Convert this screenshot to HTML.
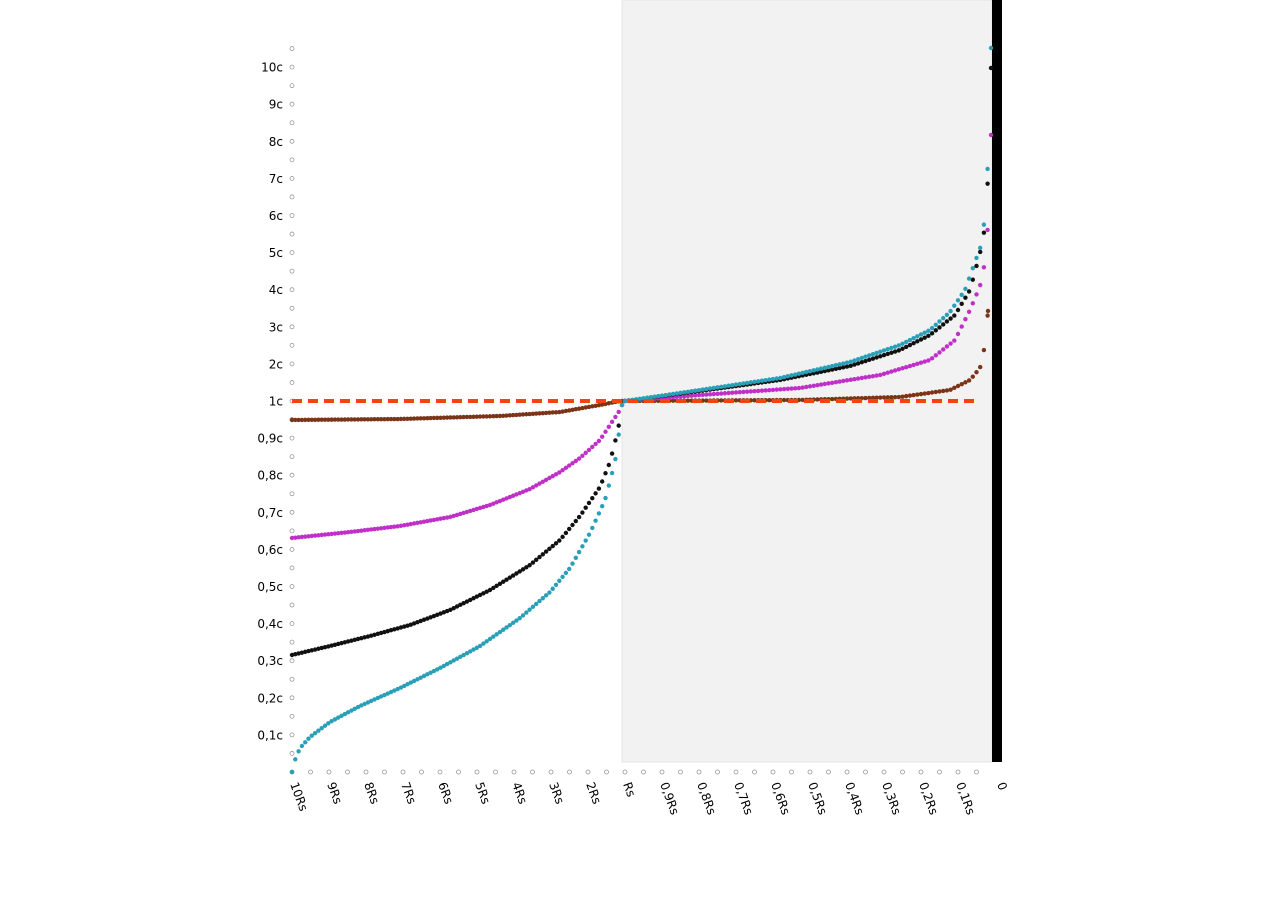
<!DOCTYPE html>
<html><head><meta charset="utf-8"><style>
body{margin:0;background:#fff;}
svg{display:block;font-family:"DejaVu Sans","Liberation Sans",sans-serif;}
</style></head><body>
<svg id="s" width="1280" height="905" xmlns="http://www.w3.org/2000/svg">
<rect x="622" y="0" width="370" height="762" fill="#f2f2f2" stroke="#e4e4e4"/>
<rect x="992" y="0" width="10" height="762" fill="#000"/>
<g id="ticks"></g>
<g id="dots"></g>
<line x1="292" y1="401" x2="975" y2="401" stroke="#f04510" stroke-width="4" stroke-dasharray="10,6"/>
</svg>
<script>
var NS="http://www.w3.org/2000/svg",s=document.getElementById('s'),T=document.getElementById('ticks'),D=document.getElementById('dots');
function el(n,a,p,t){var e=document.createElementNS(NS,n);for(var k in a)e.setAttribute(k,a[k]);if(t)e.textContent=t;(p||s).appendChild(e);return e;}
for(var i=0;i<=39;i++){var y=772-i*18.55;el('circle',{cx:292,cy:y,r:2,fill:'#fff',stroke:'#999','stroke-width':0.8},T);}
for(var i=1;i<=37;i++){var x=292+i*18.5;el('circle',{cx:x,cy:772,r:2,fill:'#fff',stroke:'#999','stroke-width':0.8},T);}
var yl=['0,1c','0,2c','0,3c','0,4c','0,5c','0,6c','0,7c','0,8c','0,9c','1c','2c','3c','4c','5c','6c','7c','8c','9c','10c'];
yl.forEach(function(t,i){el('text',{x:283,y:772-(i+1)*37.1+4.5,'text-anchor':'end','font-size':12,fill:'#000'},T,t);});
var xl=['10Rs','9Rs','8Rs','7Rs','6Rs','5Rs','4Rs','3Rs','2Rs','Rs','0,9Rs','0,8Rs','0,7Rs','0,6Rs','0,5Rs','0,4Rs','0,3Rs','0,2Rs','0,1Rs','0'];
xl.forEach(function(t,i){var x=290+i*37,y=784;if(i==19)x=997;el('text',{x:x,y:y,'font-size':12,fill:'#000',transform:'rotate(70 '+x+' '+y+')'},T,t);});
function interp(p,x){if(x<=p[0][0])return p[0][1];for(var i=1;i<p.length;i++){if(x<=p[i][0]){var a=p[i-1],b=p[i];return a[1]+(b[1]-a[1])*(x-a[0])/(b[0]-a[0]);}}return p[p.length-1][1];}
var S=[
{c:'#7a3418',L:[[292,420],[400,419],[500,416],[560,412],[600,405],[615,402],[622,401]],R:[[625,401],[800,400],[900,397],[950,390],[970,380],[980,368],[985,345],[988,311]]},
{c:'#c030c8',L:[[292,538],[350,532],[400,526],[450,517],[490,505],[530,489],[560,472],[580,458],[600,440],[612,422],[620,410]],R:[[625,401],[700,395],[800,388],[880,375],[930,360],[955,340],[970,310],[980,286],[985,262],[988,225],[991,135]]},
{c:'#111',L:[[292,655],[330,646],[370,636],[410,625],[450,610],[490,590],[530,565],[560,540],[580,516],[600,487],[610,462],[618,430],[622,405]],R:[[625,401],[700,391],[780,380],[850,366],[900,350],[930,335],[955,315],[970,290],[980,253],[985,227],[988,177],[991,68]]},
{c:'#2aa0b8',L:[[292,772],[295,760],[300,748],[310,737],[330,722],[360,706],[400,688],[440,668],[480,646],[520,618],[550,592],[570,568],[590,533],[605,500],[615,462],[620,425],[622,405]],R:[[625,401],[700,390],[780,378],[850,362],[900,345],[930,330],[950,312],[965,290],[975,262],[982,243],[985,214],[988,162],[991,48]]}
];
S.forEach(function(o){
 var lx0=o.L[0][0],lx1=o.L[o.L.length-1][0];
 for(var x=lx0;x<=lx1;x+=3.3)el('circle',{cx:x,cy:interp(o.L,x),r:2.2,fill:o.c},D);
 var rx1=o.R[o.R.length-1][0];
 for(var x=625;x<=rx1;x+=3.7)el('circle',{cx:x,cy:interp(o.R,x),r:2.2,fill:o.c},D);
 el('circle',{cx:rx1,cy:o.R[o.R.length-1][1],r:2.2,fill:o.c},D);
});
</script>
</body></html>
